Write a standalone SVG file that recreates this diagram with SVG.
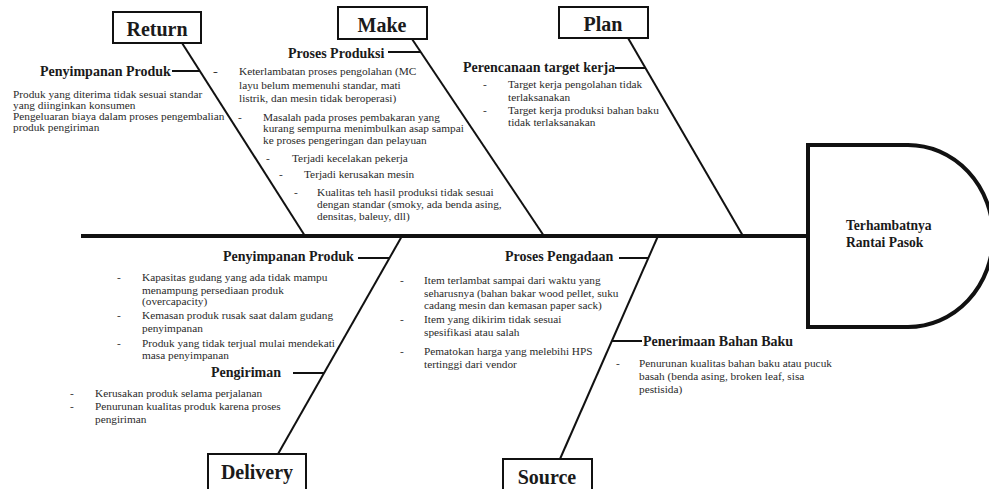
<svg xmlns="http://www.w3.org/2000/svg" width="989" height="489" viewBox="0 0 989 489">
<style>
text{font-family:"Liberation Serif","Times New Roman",serif;fill:#1a1a1a}
.t{font-size:11.3px;fill:#2a2a2a}
.l{font-size:14px;font-weight:bold}
.b{font-size:20px;font-weight:bold;text-anchor:middle}
.h{font-size:13.6px;font-weight:bold}
.box{fill:#fff;stroke:#111;stroke-width:2}
.bone{stroke:#111;stroke-width:2;fill:none}
.tick{stroke:#111;stroke-width:2}
</style>
<rect width="989" height="489" fill="#fff"/>
<g id="connectors">
<line x1="81" y1="236" x2="808" y2="236" stroke="#111" stroke-width="4"/>
<line class="bone" x1="182" y1="43" x2="305" y2="236"/>
<line class="bone" x1="412" y1="39" x2="544" y2="236"/>
<line class="bone" x1="628" y1="38" x2="743" y2="236"/>
<line class="bone" x1="402" y1="236" x2="278" y2="454"/>
<line class="bone" x1="658" y1="236" x2="560" y2="459"/>
<line class="tick" x1="172" y1="71" x2="200" y2="71"/>
<line class="tick" x1="388" y1="52" x2="421" y2="52"/>
<line class="tick" x1="615" y1="68" x2="645" y2="68"/>
<line class="tick" x1="358" y1="258" x2="389" y2="258"/>
<line class="tick" x1="293" y1="373" x2="324" y2="373"/>
<line class="tick" x1="619" y1="258" x2="648" y2="258"/>
<line class="tick" x1="612" y1="341" x2="642" y2="341"/>
</g>
<g id="head">
<path d="M808,145 H908 A85,91 0 0 1 908,327 H808 Z" fill="#fff" stroke="#111" stroke-width="4"/>
<text class="h" x="846" y="230">Terhambatnya</text>
<text class="h" x="846" y="247">Rantai Pasok</text>
</g>
<g id="return">
<rect class="box" x="113" y="12" width="88" height="31"/>
<text class="b" x="157" y="36">Return</text>
<text class="l" x="40" y="76">Penyimpanan Produk</text>
<text class="t" x="213" y="75">-</text>
<text class="t" x="13" y="98">Produk yang diterima tidak sesuai standar</text>
<text class="t" x="13" y="109">yang diinginkan konsumen</text>
<text class="t" x="13" y="120">Pengeluaran biaya dalam proses pengembalian</text>
<text class="t" x="13" y="131">produk pengiriman</text>
</g>
<g id="make">
<rect class="box" x="338" y="7" width="89" height="32"/>
<text class="b" x="382" y="32">Make</text>
<text class="l" x="288" y="58">Proses Produksi</text>
<text class="t" x="214" y="75">-</text>
<text class="t" x="239" y="75">Keterlambatan proses pengolahan (MC</text>
<text class="t" x="239" y="88.5">layu belum memenuhi standar, mati</text>
<text class="t" x="239" y="102">listrik, dan mesin tidak beroperasi)</text>
<text class="t" x="238" y="120.5">-</text>
<text class="t" x="263" y="120.5">Masalah pada proses pembakaran yang</text>
<text class="t" x="263" y="132">kurang sempurna menimbulkan asap sampai</text>
<text class="t" x="263" y="144">ke proses pengeringan dan pelayuan</text>
<text class="t" x="266" y="161.5">-</text>
<text class="t" x="292" y="161.5">Terjadi kecelakan pekerja</text>
<text class="t" x="279" y="178">-</text>
<text class="t" x="304" y="178">Terjadi kerusakan mesin</text>
<text class="t" x="294" y="196">-</text>
<text class="t" x="317" y="196">Kualitas teh hasil produksi tidak sesuai</text>
<text class="t" x="317" y="208">dengan standar (smoky, ada benda asing,</text>
<text class="t" x="317" y="220">densitas, baleuy, dll)</text>
</g>
<g id="plan">
<rect class="box" x="559" y="7" width="89" height="31"/>
<text class="b" x="603" y="31">Plan</text>
<text class="l" x="463" y="72">Perencanaan target kerja</text>
<text class="t" x="483" y="87.5">-</text>
<text class="t" x="508" y="87.5">Target kerja pengolahan tidak</text>
<text class="t" x="508" y="100.5">terlaksanakan</text>
<text class="t" x="483" y="113.5">-</text>
<text class="t" x="508" y="113.5">Target kerja produksi bahan baku</text>
<text class="t" x="508" y="125.5">tidak terlaksanakan</text>
</g>
<g id="delivery">
<rect class="box" x="208" y="454" width="98" height="45"/>
<text class="b" x="257" y="479">Delivery</text>
<text class="l" x="223" y="261">Penyimpanan Produk</text>
<text class="t" x="117" y="280.5">-</text>
<text class="t" x="142" y="280.5">Kapasitas gudang yang ada tidak mampu</text>
<text class="t" x="142" y="293.5">menampung persediaan produk</text>
<text class="t" x="142" y="305">(overcapacity)</text>
<text class="t" x="117" y="319">-</text>
<text class="t" x="142" y="319">Kemasan produk rusak saat dalam gudang</text>
<text class="t" x="142" y="331.5">penyimpanan</text>
<text class="t" x="117" y="346.5">-</text>
<text class="t" x="142" y="346.5">Produk yang tidak terjual mulai mendekati</text>
<text class="t" x="142" y="358.5">masa penyimpanan</text>
<text class="l" x="211" y="377">Pengiriman</text>
<text class="t" x="70" y="397">-</text>
<text class="t" x="95" y="397">Kerusakan produk selama perjalanan</text>
<text class="t" x="70" y="409.5">-</text>
<text class="t" x="95" y="409.5">Penurunan kualitas produk karena proses</text>
<text class="t" x="95" y="423">pengiriman</text>
</g>
<g id="source">
<rect class="box" x="503" y="459" width="89" height="40"/>
<text class="b" x="547" y="484">Source</text>
<text class="l" x="505" y="261">Proses Pengadaan</text>
<text class="t" x="400" y="283.5">-</text>
<text class="t" x="424" y="283.5">Item terlambat sampai dari waktu yang</text>
<text class="t" x="424" y="296.5">seharusnya (bahan bakar wood pellet, suku</text>
<text class="t" x="424" y="308.5">cadang mesin dan kemasan paper sack)</text>
<text class="t" x="400" y="322.5">-</text>
<text class="t" x="424" y="322.5">Item yang dikirim tidak sesuai</text>
<text class="t" x="424" y="336">spesifikasi atau salah</text>
<text class="t" x="400" y="354.5">-</text>
<text class="t" x="424" y="354.5">Pematokan harga yang melebihi HPS</text>
<text class="t" x="424" y="367.5">tertinggi dari vendor</text>
<text class="l" x="643" y="346">Penerimaan Bahan Baku</text>
<text class="t" x="616" y="366.5">-</text>
<text class="t" x="639" y="366.5">Penurunan kualitas bahan baku atau pucuk</text>
<text class="t" x="639" y="379.5">basah (benda asing, broken leaf, sisa</text>
<text class="t" x="639" y="392.5">pestisida)</text>
</g>
</svg>
